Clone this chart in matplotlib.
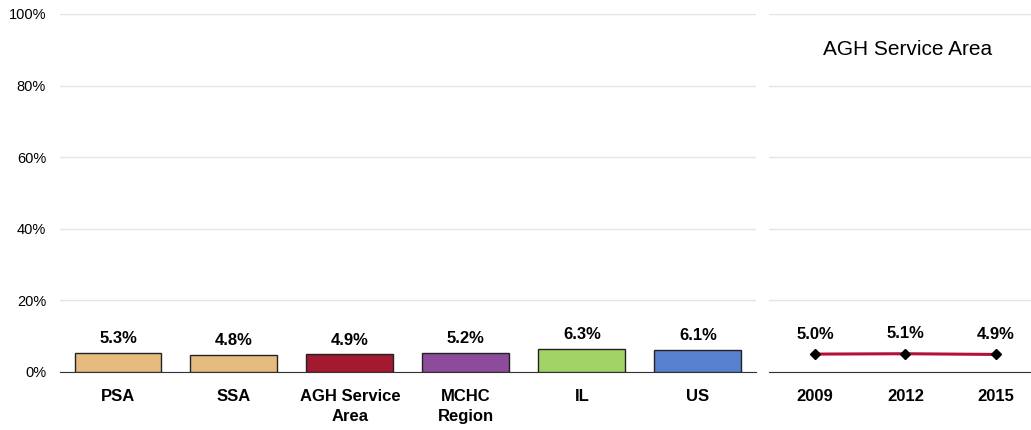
import numpy as np
import matplotlib.pyplot as plt
from matplotlib.ticker import PercentFormatter

plt.rcParams['font.family'] = ['Liberation Sans Narrow', 'Liberation Sans', 'DejaVu Sans']

# data
regions = ['PSA', 'SSA', 'AGH Service\nArea', 'MCHC\nRegion', 'IL', 'US']
region_vals = [5.3, 4.8, 4.9, 5.2, 6.3, 6.1]
region_colors = ['#E6BC7E', '#E6BC7E', '#A3192F', '#8C4B9B', '#A2D366', '#5681CF']

years = ['2009', '2012', '2015']
trend_vals = [5.0, 5.1, 4.9]

fig = plt.figure(figsize=(10.31, 4.30), dpi=100)
ax1 = fig.add_axes([0.0582, 0.1349, 0.675, 0.8326])
ax2 = fig.add_axes([0.746, 0.1349, 0.254, 0.8326])

grid_c = '#E4E4E4'

# left: bars per region
x = np.arange(len(regions))
ax1.bar(x, region_vals, width=0.75, color=region_colors, edgecolor='#222222', linewidth=1, zorder=3)
for xi, v in zip(x, region_vals):
    ax1.annotate(f'{v:.1f}%', (xi, v), xytext=(0, 5), textcoords='offset points',
                 ha='center', va='bottom', fontsize=12, fontweight='bold')
ax1.set_xlim(-0.5, len(regions) - 0.5)
ax1.set_ylim(0, 100)
ax1.set_yticks(range(0, 101, 20))
ax1.yaxis.set_major_formatter(PercentFormatter(decimals=0))
ax1.set_xticks(x)
ax1.set_xticklabels(regions, fontsize=12, fontweight='bold', linespacing=1.45)
ax1.tick_params(axis='x', length=0, pad=12)
ax1.tick_params(axis='y', length=0, labelsize=10.5, pad=10)
ax1.grid(axis='y', color=grid_c, linewidth=1, zorder=0)
for s in ['top', 'right', 'left']:
    ax1.spines[s].set_visible(False)
ax1.spines['bottom'].set_color('#333333')

# right: trend for AGH Service Area
xt = np.arange(len(years))
ax2.plot(xt, trend_vals, color='#B31238', linewidth=2.2, marker='D', markersize=5,
         markerfacecolor='black', markeredgecolor='black', zorder=3)
for xi, v in zip(xt, trend_vals):
    ax2.annotate(f'{v:.1f}%', (xi, v), xytext=(0, 9), textcoords='offset points',
                 ha='center', va='bottom', fontsize=12, fontweight='bold')
ax2.set_xlim(-0.51, 2.39)
ax2.set_ylim(0, 100)
ax2.set_yticks(range(0, 101, 20))
ax2.set_yticklabels([])
ax2.set_xticks(xt)
ax2.set_xticklabels(years, fontsize=12, fontweight='bold')
ax2.tick_params(axis='x', length=0, pad=12)
ax2.tick_params(axis='y', length=0)
ax2.grid(axis='y', color=grid_c, linewidth=1, zorder=0)
for s in ['top', 'right', 'left']:
    ax2.spines[s].set_visible(False)
ax2.spines['bottom'].set_color('#333333')
ax2.text(0.527, 0.902, 'AGH Service Area', transform=ax2.transAxes,
         ha='center', va='center', fontsize=15)

fig.savefig('out.png', dpi=100)
